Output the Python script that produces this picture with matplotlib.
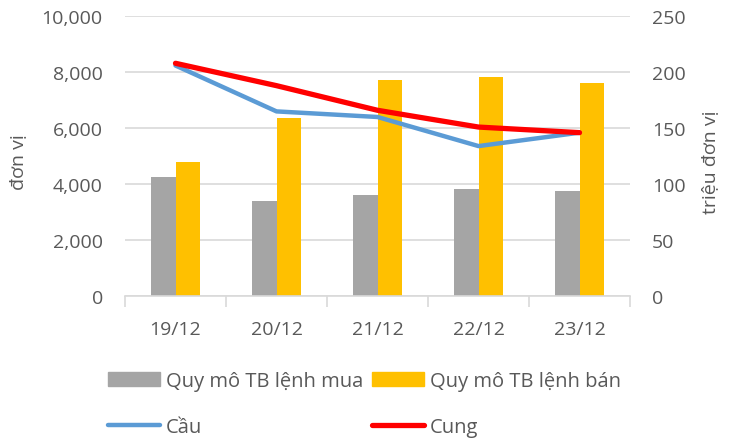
import matplotlib
matplotlib.use("Agg")
import matplotlib.pyplot as plt
import numpy as np
from matplotlib.patches import Patch
from matplotlib.lines import Line2D

categories = ["19/12", "20/12", "21/12", "22/12", "23/12"]
mua = [4240, 3400, 3620, 3820, 3770]
ban = [4780, 6350, 7710, 7830, 7630]
cau = [206, 165, 160, 134, 146]
cung = [208, 188, 166, 151, 146]

plt.rcParams['font.family'] = ['Open Sans', 'DejaVu Sans']
TXT = '#595959'
GRID = '#D9D9D9'
FS = 14
LFS = 14.5

fig = plt.figure(figsize=(7.34, 4.39), dpi=100)
ax = fig.add_axes([125/734, 1-297/439, (630-125)/734, (297-17.3)/439])
ax2 = ax.twinx()

x = np.arange(len(categories))
w = 0.24
ax.bar(x - w/2, mua, width=w, color='#A5A5A5', zorder=2)
ax.bar(x + w/2, ban, width=w, color='#FFC000', zorder=2)

ax2.plot(x, cau, color='#5B9BD5', lw=3.2, solid_capstyle='round', solid_joinstyle='round', zorder=3)
ax2.plot(x, cung, color='#FF0000', lw=3.8, solid_capstyle='round', solid_joinstyle='round', zorder=4)

ax.set_xlim(-0.5, len(categories) - 0.5)
ax.set_ylim(0, 10000)
ax2.set_ylim(0, 250)
ax.set_yticks(np.arange(0, 10001, 2000))
ax.set_yticklabels([f"{v:,}" for v in range(0, 10001, 2000)])
ax2.set_yticks(np.arange(0, 251, 50))
ax.yaxis.grid(True, color=GRID, lw=1.2, zorder=0)
ax.set_axisbelow(True)

ax.set_xticks(x)
ax.set_xticklabels(categories)
ax.set_xticks(np.arange(-0.5, len(categories)), minor=True)
ax.tick_params(axis='x', which='major', length=0, pad=17, labelsize=FS, labelcolor=TXT)
ax.tick_params(axis='x', which='minor', length=8, color=GRID, width=1.2)
ax.tick_params(axis='y', length=0, pad=16, labelsize=FS, labelcolor=TXT)
ax2.tick_params(axis='y', length=0, pad=16, labelsize=FS, labelcolor=TXT)

for a in (ax, ax2):
    for s in ('top', 'left', 'right', 'bottom'):
        a.spines[s].set_visible(False)
ax.spines['bottom'].set_visible(True)
ax.spines['bottom'].set_color(GRID)
ax.spines['bottom'].set_linewidth(1.2)

fig.text(19/734, 1-162/439, "đơn vị", rotation=90, ha='center', va='center', fontsize=FS, color=TXT)
fig.text(711/734, 1-162/439, "triệu đơn vị", rotation=90, ha='center', va='center', fontsize=FS, color=TXT)

handles = [Patch(color='#A5A5A5'),
           Line2D([], [], color='#5B9BD5', lw=3.2, solid_capstyle='round'),
           Patch(color='#FFC000'),
           Line2D([], [], color='#FF0000', lw=3.8, solid_capstyle='round')]
labels = ["Quy mô TB lệnh mua", "Cầu", "Quy mô TB lệnh bán", "Cung"]
leg = fig.legend(handles, labels, ncol=2, loc='upper left',
                 bbox_to_anchor=(108/734, 1-372/439), frameon=False,
                 fontsize=LFS, handlelength=2.6, handletextpad=0.27,
                 columnspacing=0.44, labelspacing=1.3, borderpad=0, borderaxespad=0)
for t in leg.get_texts():
    t.set_color(TXT)

fig.savefig("out.png", dpi=100)
